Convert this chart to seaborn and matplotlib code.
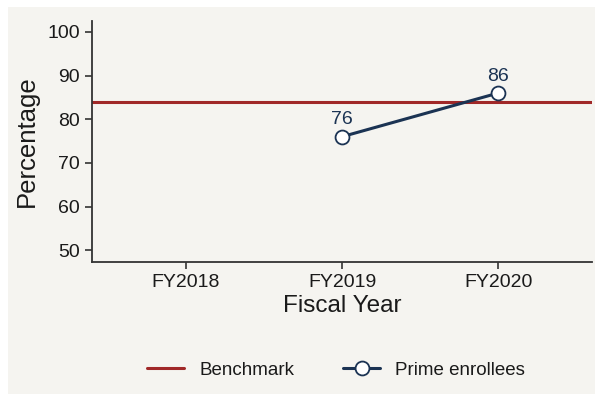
import numpy as np
import pandas as pd
import matplotlib
matplotlib.use("Agg")
import matplotlib.pyplot as plt
from matplotlib.lines import Line2D
from matplotlib.patches import Rectangle
import seaborn as sns

# ---- data ----
years = ["FY2018", "FY2019", "FY2020"]
prime_values = [np.nan, 76, 86]
benchmark_value = 84
y_ticks = [50, 60, 70, 80, 90, 100]

BG = "#f5f4f0"
RED = "#a02828"
NAVY = "#1b3353"
TXT = "#1a1a1a"

sns.set_theme(style="ticks")
plt.rcParams["font.family"] = ["Liberation Sans", "DejaVu Sans"]

fig = plt.figure(figsize=(5.97, 3.94), dpi=100, facecolor="white")
fig.patches.append(Rectangle((8 / 597, 0), (595 - 8) / 597, (394 - 7) / 394,
                             transform=fig.transFigure, facecolor=BG,
                             edgecolor="none", zorder=-10))
ax = fig.add_axes([92 / 597, (394 - 262) / 394, (592 - 92) / 597, (262 - 21) / 394])
ax.set_facecolor(BG)

df = pd.DataFrame({"x": np.arange(len(years)), "y": prime_values})
ax.axhline(benchmark_value, color=RED, lw=2.2, zorder=2)
sns.lineplot(data=df.dropna(), x="x", y="y", ax=ax, color=NAVY, lw=2.2,
             marker="o", markersize=10, markerfacecolor="white",
             markeredgecolor=NAVY, markeredgewidth=1.3, zorder=3)

for xi, v in zip(df["x"], df["y"]):
    if not np.isnan(v):
        ax.annotate(f"{v:.0f}", (xi, v), xytext=(0, 6), textcoords="offset points",
                    ha="center", va="bottom", fontsize=14, color=NAVY)

ax.set_xlim(-0.6, 2.6)
ax.set_ylim(47.3, 102.5)
ax.set_xticks(df["x"])
ax.set_xticklabels(years)
ax.set_yticks(y_ticks)
ax.tick_params(axis="both", labelsize=14, colors="#333333", labelcolor=TXT,
               length=5, width=1.2, direction="out")
for s in ["top", "right"]:
    ax.spines[s].set_visible(False)
for s in ["left", "bottom"]:
    ax.spines[s].set_color("#333333")
    ax.spines[s].set_linewidth(1.3)

ax.set_xlabel("Fiscal Year", fontsize=17.5, color=TXT, labelpad=3)
ax.set_ylabel("Percentage", fontsize=18.5, color=TXT, labelpad=6)

handles = [
    Line2D([0], [0], color=RED, lw=2.2),
    Line2D([0], [0], color=NAVY, lw=2.2, marker="o", markersize=10,
           markerfacecolor="white", markeredgecolor=NAVY, markeredgewidth=1.3),
]
fig.legend(handles, ["Benchmark", "Prime enrollees"], loc="center",
           bbox_to_anchor=(336 / 597, 1 - 370 / 394), ncol=2, frameon=False,
           fontsize=13.5, handlelength=2.0, columnspacing=2.6, handletextpad=0.8,
           labelcolor=TXT)

fig.savefig("out.png", dpi=100, facecolor="white")
